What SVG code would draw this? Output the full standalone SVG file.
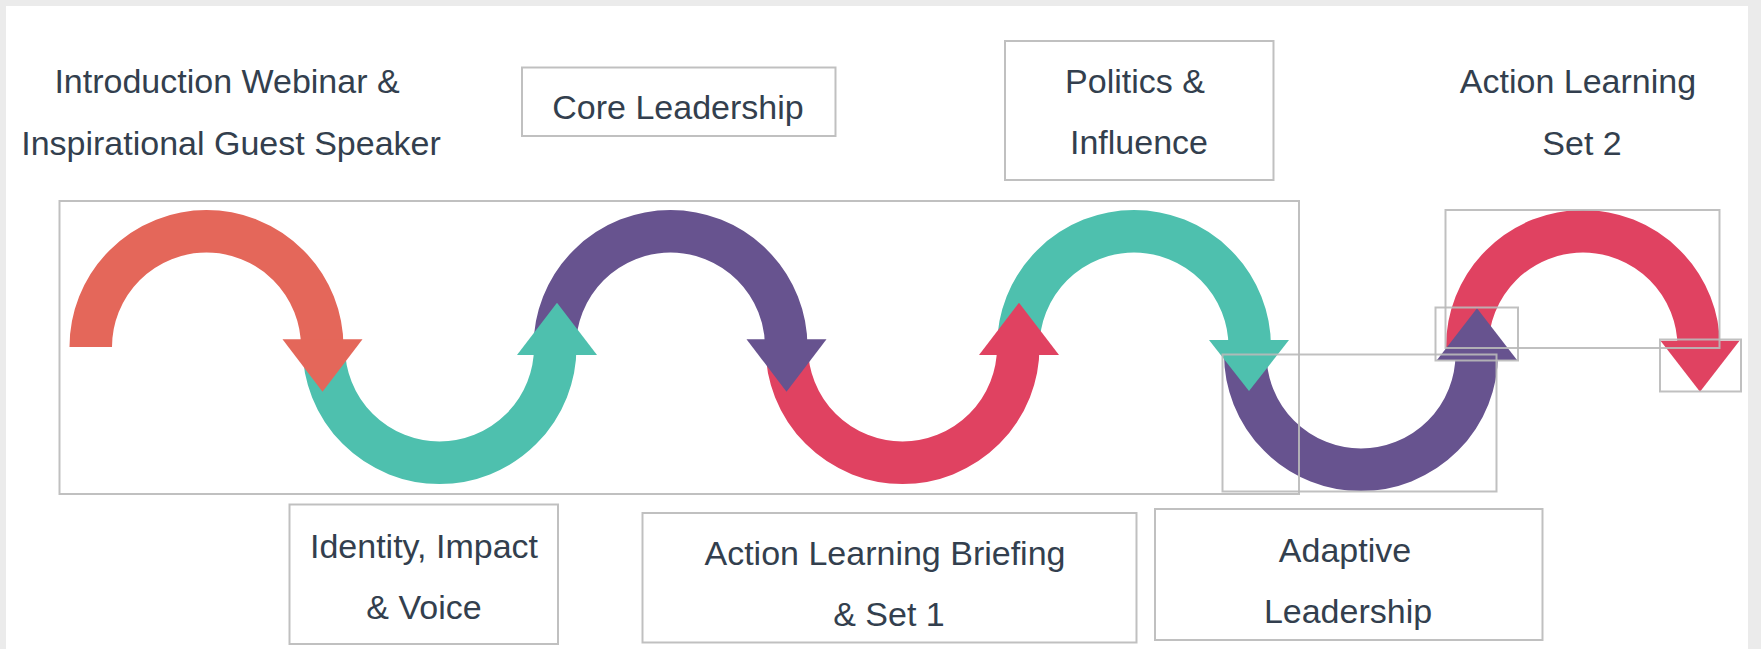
<svg xmlns="http://www.w3.org/2000/svg" width="1761" height="649" viewBox="0 0 1761 649">
<style>
.lbl{font-family:"Liberation Sans",Arial,sans-serif;font-size:34px;fill:#333f4e;text-anchor:middle}
.box{fill:none;stroke:#b9b9b9;stroke-width:2;stroke-opacity:0.9}
.arc{fill:none;stroke-width:42.5}
.or{stroke:#e4675a}.te{stroke:#4ec0ae}.pu{stroke:#67538f}.cr{stroke:#e04261}
.fo{fill:#e4675a}.ft{fill:#4ec0ae}.fp{fill:#67538f}.fc{fill:#e04261}
</style>
<rect x="0" y="0" width="1761" height="649" fill="#ebebeb"/>
<rect x="6" y="6" width="1742" height="643" fill="#ffffff"/>
<g id="connectors">
<path class="arc or" d="M90.75 347 A115.75 115.75 0 0 1 322.25 347"/>
<path class="arc te" d="M323.75 347 A115.75 115.75 0 0 0 555.25 347"/>
<path class="arc pu" d="M554.75 347 A115.75 115.75 0 0 1 786.25 347"/>
<path class="arc cr" d="M786.75 347 A115.75 115.75 0 0 0 1018.25 347"/>
<path class="arc te" d="M1018.25 347 A115.75 115.75 0 0 1 1249.75 347"/>
<path class="arc pu" d="M1245.25 354 A115.75 115.75 0 0 0 1476.75 354"/>
<path class="arc cr" d="M1467.25 347 A115.75 115.75 0 0 1 1698.75 347"/>
<polygon class="fo" points="282.5,339.3 362.5,339.3 322.5,391.7"/>
<polygon class="ft" points="517,355 597,355 557,302.7"/>
<polygon class="fp" points="746.5,339.3 826.5,339.3 786.5,391.7"/>
<polygon class="fc" points="979,355 1059,355 1019,302.7"/>
<polygon class="ft" points="1209,340 1289,340 1249,391"/>
<polygon class="fp" points="1437,360 1517,360 1477,308.3"/>
<polygon class="fc" points="1660.5,340.7 1739.5,340.7 1700,391.7"/>
</g>
<g id="frames">
<rect class="box" x="59.5" y="201" width="1239.5" height="293"/>
<rect class="box" x="1222.5" y="354.5" width="274" height="137"/>
<rect class="box" x="1445.5" y="210" width="274" height="138"/>
<rect class="box" x="1435.5" y="307.5" width="82.5" height="53"/>
<rect class="box" x="1660" y="339.5" width="81" height="52"/>
</g>
<g id="n-intro">
<text class="lbl" x="227" y="93">Introduction Webinar &amp;</text>
<text class="lbl" x="231" y="155">Inspirational Guest Speaker</text>
</g>
<g id="n-core">
<rect class="box" x="522" y="67.5" width="313.5" height="68.5"/>
<text class="lbl" x="678" y="119">Core Leadership</text>
</g>
<g id="n-politics">
<rect class="box" x="1005" y="41" width="268.5" height="139"/>
<text class="lbl" x="1135" y="93">Politics &amp;</text>
<text class="lbl" x="1139" y="154">Influence</text>
</g>
<g id="n-als2">
<text class="lbl" x="1578" y="93">Action Learning</text>
<text class="lbl" x="1582" y="155">Set 2</text>
</g>
<g id="n-identity">
<rect class="box" x="289.5" y="504.5" width="268.5" height="139.5"/>
<text class="lbl" x="424" y="558">Identity, Impact</text>
<text class="lbl" x="424" y="619">&amp; Voice</text>
</g>
<g id="n-alb">
<rect class="box" x="642.5" y="513" width="494" height="129.5"/>
<text class="lbl" x="885" y="565">Action Learning Briefing</text>
<text class="lbl" x="889" y="626">&amp; Set 1</text>
</g>
<g id="n-adaptive">
<rect class="box" x="1155" y="509" width="387.5" height="131"/>
<text class="lbl" x="1345" y="562">Adaptive</text>
<text class="lbl" x="1348" y="623">Leadership</text>
</g>
</svg>
